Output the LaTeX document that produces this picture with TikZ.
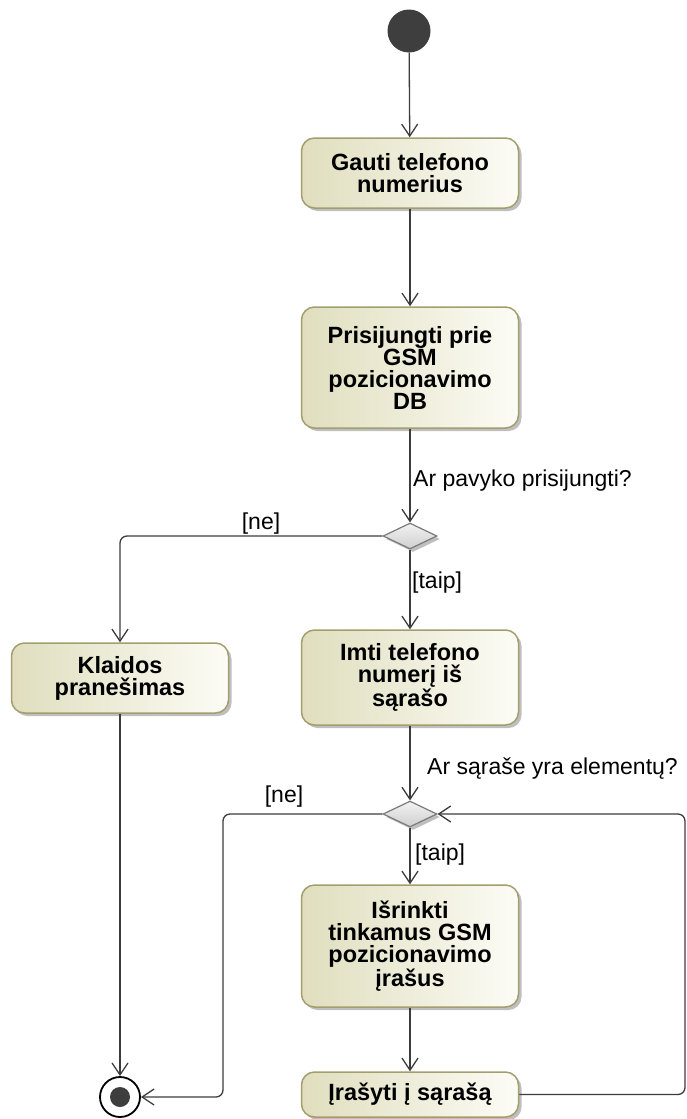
\documentclass[tikz,border=0pt]{standalone}
\usepackage{fontspec}
\setmainfont{Liberation Sans}
\usetikzlibrary{arrows.meta,shapes.geometric,shadows}

\definecolor{edge}{HTML}{3C3C3C}
\definecolor{actborder}{HTML}{A39E6E}
\definecolor{actleft}{HTML}{E0DEBE}
\definecolor{actright}{HTML}{FCFCF6}
\definecolor{decborder}{HTML}{7A7A7A}
\definecolor{dectop}{HTML}{F2F2F2}
\definecolor{decbottom}{HTML}{CFCFCF}
\definecolor{solidnode}{HTML}{3E3E3E}

\begin{document}
\begin{tikzpicture}[x=1pt,y=-1pt,
  action/.style={draw=actborder, line width=1.5pt, rounded corners=13pt,
    left color=actleft, right color=actright, minimum width=217pt,
    inner sep=0pt, align=center,
    font=\bfseries\fontsize{23.5}{22}\selectfont,
    drop shadow={shadow xshift=3pt, shadow yshift=-3pt, opacity=0.25, fill=black}},
  decision/.style={diamond, draw=decborder, line width=1.2pt,
    top color=dectop, bottom color=decbottom,
    minimum width=54pt, minimum height=26pt, inner sep=0pt,
    drop shadow={shadow xshift=3pt, shadow yshift=-3pt, opacity=0.25, fill=black}},
  startnode/.style={circle, fill=solidnode, minimum size=43pt, inner sep=0pt},
  endring/.style={circle, draw=black, line width=1.8pt, fill=white, minimum size=40pt, inner sep=0pt},
  enddot/.style={circle, fill=solidnode, minimum size=20pt, inner sep=0pt},
  flow/.style={draw=edge, line width=1.3pt, rounded corners=7pt,
    -{Straight Barb[length=12pt,width=16pt,line width=1.3pt]}},
  lbl/.style={font=\fontsize{23}{24}\selectfont, inner sep=0pt, anchor=west}
]
\useasboundingbox (0,0) rectangle (687,1119);

% activity nodes
\node[startnode] (init) at (409,31) {};
\node[action, minimum height=70pt] (get) at (410,173) {Gauti telefono\\numerius};
\node[action, minimum height=121pt] (conn) at (410,367.5) {Prisijungti prie\\GSM\\pozicionavimo\\DB};
\node[decision] (d1) at (410,536) {};
\node[action, minimum height=70pt] (err) at (120,678) {Klaidos\\pranešimas};
\node[action, minimum height=95pt] (take) at (410,677.5) {Imti telefono\\numerį iš\\sąrašo};
\node[decision] (d2) at (410,814) {};
\node[action, minimum height=122pt] (pick) at (410,946) {Išrinkti\\tinkamus GSM\\pozicionavimo\\įrašus};
\node[action, minimum height=45pt] (save) at (410,1094.5) {Įrašyti į sąrašą};
\node[endring] (fin) at (120,1097) {};
\node[enddot] (findot) at (fin) {};

% routing points of the loops
\coordinate (loopL) at (223,1097);
\coordinate (loopR) at (685,814);

% control flows
\draw[flow] (init) -- (get);
\draw[flow] (get) -- (conn);
\draw[flow] (conn) -- (d1);
\draw[flow] (d1.west) -| (err.north);
\draw[flow] (d1) -- (take);
\draw[flow] (err) -- (fin);
\draw[flow] (take) -- (d2);
\draw[flow] (d2.west) -| (loopL) -- (fin.east);
\draw[flow] (d2) -- (pick);
\draw[flow] (pick) -- (save);
\draw[flow] (save.east) -| (loopR) -- (d2.east);

% guards and questions
\node[lbl] (q1) at (413,481) {Ar pavyko prisijungti?};
\node[lbl, anchor=center] (n1) at (261,524) {[ne]};
\node[lbl] (y1) at (412,583) {[taip]};
\node[lbl] (q2) at (427,769) {Ar sąraše yra elementų?};
\node[lbl, anchor=center] (n2) at (284,797) {[ne]};
\node[lbl] (y2) at (415,855) {[taip]};
\end{tikzpicture}
\end{document}
